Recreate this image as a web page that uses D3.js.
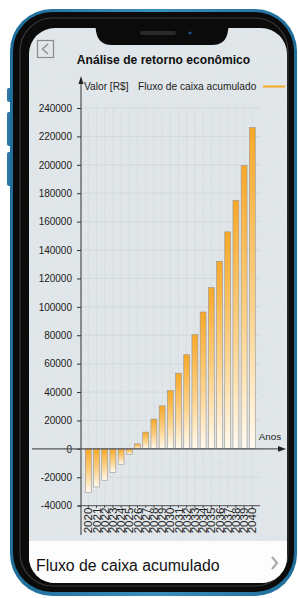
<!DOCTYPE html>
<html>
<head>
<meta charset="utf-8">
<script src="https://cdn.jsdelivr.net/npm/d3@7/dist/d3.min.js"></script>
<style>
  html, body { margin: 0; padding: 0; background: #fff; }
  svg { display: block; font-family: "Liberation Sans", Arial, sans-serif; }
</style>
</head>
<body>
<svg id="chart" width="298" height="598"></svg>
<script>
// data
var years = ['2020','2021','2022','2023','2024','2025','2026','2027','2028','2029','2030',
             '2031','2032','2033','2034','2035','2036','2037','2038','2039','2040'];
var fluxoAcumulado = [-30800, -26800, -22100, -16500, -10800, -3800, 3500, 11800, 21000, 30300,
                      41100, 53300, 66300, 80400, 96400, 113600, 132100, 152800, 175000, 199600, 226200];
var yTicks = [-40000, -20000, 0, 20000, 40000, 60000, 80000, 100000, 120000, 140000,
              160000, 180000, 200000, 220000, 240000];
var titleText = 'Análise de retorno econômico';
var legendText = 'Fluxo de caixa acumulado';

var svg = d3.select('#chart');
var defs = svg.append('defs');

// ---- phone frame ----
var outer = defs.append('linearGradient').attr('id', 'rim').attr('x1', 0).attr('y1', 0).attr('x2', 1).attr('y2', 0);
outer.append('stop').attr('offset', '0%').attr('stop-color', '#1f6d99');
outer.append('stop').attr('offset', '50%').attr('stop-color', '#3b8fbd');
outer.append('stop').attr('offset', '100%').attr('stop-color', '#1f6d99');

var noise = defs.append('filter').attr('id', 'noise').attr('x', 0).attr('y', 0).attr('width', 1).attr('height', 1);
noise.append('feTurbulence').attr('type', 'fractalNoise').attr('baseFrequency', 0.9).attr('numOctaves', 2).attr('result', 't');
noise.append('feColorMatrix').attr('in', 't').attr('type', 'matrix')
  .attr('values', '0 0 0 0 0.55  0 0 0 0 0.6  0 0 0 0 0.63  0 0 0 0.18 0').attr('result', 'n');
noise.append('feComposite').attr('in', 'n').attr('in2', 'SourceGraphic').attr('operator', 'in').attr('result', 'm');
noise.append('feMerge').selectAll('feMergeNode').data(['SourceGraphic', 'm']).enter()
  .append('feMergeNode').attr('in', function(d) { return d; });

// side buttons
svg.selectAll('rect.btn').data([[88, 14], [112, 34], [152, 34]]).enter().append('rect')
  .attr('class', 'btn').attr('x', 7).attr('y', function(d) { return d[0]; })
  .attr('width', 5).attr('height', function(d) { return d[1]; }).attr('rx', 2).attr('fill', '#2a78a6');

svg.append('rect').attr('x', 10).attr('y', 9).attr('width', 287).attr('height', 587).attr('rx', 42)
  .attr('fill', 'url(#rim)');
svg.append('rect').attr('x', 13).attr('y', 12).attr('width', 281).attr('height', 580).attr('rx', 39)
  .attr('fill', '#0b0b0b');
svg.append('rect').attr('x', 20).attr('y', 18).attr('width', 268).attr('height', 568).attr('rx', 33)
  .attr('fill', 'none').attr('stroke', '#3a3a3a').attr('stroke-width', 1.2);

// screen
var clip = defs.append('clipPath').attr('id', 'screen');
clip.append('rect').attr('x', 29).attr('y', 28).attr('width', 258).attr('height', 555).attr('rx', 26);

var screen = svg.append('g').attr('clip-path', 'url(#screen)');
screen.append('rect').attr('x', 29).attr('y', 28).attr('width', 258).attr('height', 555)
  .attr('fill', '#e3e8eb').attr('filter', 'url(#noise)');
screen.append('rect').attr('x', 29).attr('y', 541).attr('width', 258).attr('height', 42).attr('fill', '#fdfdfd');

// notch
svg.append('path')
  .attr('d', 'M84,26 L92,26 Q96,26 96,31 Q98,45 112,45 L212,45 Q226,45 228,31 Q228,26 232,26 L240,26 L240,20 L84,20 Z')
  .attr('fill', '#0b0b0b');
svg.append('rect').attr('x', 140).attr('y', 31).attr('width', 36).attr('height', 4).attr('rx', 2).attr('fill', '#2a2a2a');
svg.append('circle').attr('cx', 190).attr('cy', 33).attr('r', 1.6).attr('fill', '#1e4f8a');

// header
svg.append('rect').attr('x', 37.5).attr('y', 40.5).attr('width', 16).attr('height', 17)
  .attr('fill', 'none').attr('stroke', '#8c8c8c').attr('stroke-width', 1.2);
svg.append('path').attr('d', 'M48,44 L42.5,49 L48,54').attr('fill', 'none')
  .attr('stroke', '#8c8c8c').attr('stroke-width', 1.4);
svg.append('text').attr('x', 163.5).attr('y', 63.5).attr('text-anchor', 'middle')
  .attr('font-size', 12.1).attr('font-weight', 'bold').attr('fill', '#111').text(titleText);

// ---- chart ----
var x = d3.scaleBand().domain(years).range([84.2, 256.4]).paddingInner(0.28).paddingOuter(0.14);
var y = d3.scaleLinear().domain([-40000, 240000]).range([505.7, 108]);
var gridRight = 260;

var grad = defs.append('linearGradient').attr('id', 'barFill').attr('x1', 0).attr('y1', 0).attr('x2', 0).attr('y2', 1);
grad.append('stop').attr('offset', '0%').attr('stop-color', '#f8a828');
grad.append('stop').attr('offset', '55%').attr('stop-color', '#fcd28a');
grad.append('stop').attr('offset', '100%').attr('stop-color', '#fffaf0');

var chart = svg.append('g');

// grid
var minor = d3.range(-40000, 240001, 10000);
chart.append('g').selectAll('line').data(minor).enter().append('line')
  .attr('x1', x.range()[0] - 3).attr('x2', gridRight)
  .attr('y1', function(d) { return y(d); }).attr('y2', function(d) { return y(d); })
  .attr('stroke', function(d) { return d % 20000 === 0 ? '#cdd3d6' : '#dce1e4'; })
  .attr('stroke-width', 0.7);
chart.append('g').selectAll('line').data(years).enter().append('line')
  .attr('x1', function(d) { return x(d) + x.bandwidth() / 2; })
  .attr('x2', function(d) { return x(d) + x.bandwidth() / 2; })
  .attr('y1', y(240000)).attr('y2', y(-40000))
  .attr('stroke', '#d3d8db').attr('stroke-width', 0.6);

// bars
chart.append('g').selectAll('rect').data(years).enter().append('rect')
  .attr('x', function(d) { return x(d); })
  .attr('width', x.bandwidth())
  .attr('y', function(d, i) { return y(Math.max(0, fluxoAcumulado[i])); })
  .attr('height', function(d, i) { return Math.abs(y(fluxoAcumulado[i]) - y(0)); })
  .attr('fill', 'url(#barFill)')
  .attr('stroke', '#9a9590').attr('stroke-width', 0.6);

// y axis (plain hyphen for negatives, as in the picture)
var yAxis = d3.axisLeft(y).tickValues(yTicks).tickSize(4).tickPadding(5)
  .tickFormat(function(d) { return String(d); });
var ya = chart.append('g').attr('transform', 'translate(81,0)').call(yAxis);
ya.select('.domain').remove();
ya.selectAll('line').attr('stroke', '#333');
ya.selectAll('text').attr('font-size', 10).attr('fill', '#222')
  .attr('font-family', '"Liberation Sans", Arial, sans-serif');
chart.append('line').attr('x1', 81).attr('x2', 81).attr('y1', 80).attr('y2', 535)
  .attr('stroke', '#333').attr('stroke-width', 1);
chart.append('path').attr('d', 'M81,76 L78.5,84 L83.5,84 Z').attr('fill', '#222');

// zero line with arrow
chart.append('line').attr('x1', 32).attr('x2', 280).attr('y1', y(0)).attr('y2', y(0))
  .attr('stroke', '#555').attr('stroke-width', 1.1);
chart.append('path').attr('d', 'M286,' + y(0) + ' L278,' + (y(0) - 2.8) + ' L278,' + (y(0) + 2.8) + ' Z')
  .attr('fill', '#222');
chart.append('text').attr('x', 270).attr('y', y(0) - 9).attr('text-anchor', 'middle')
  .attr('font-size', 9.8).attr('fill', '#222').text('Anos');

// bottom year axis
var xAxis = d3.axisBottom(x).tickSize(2).tickPadding(1);
var xa = chart.append('g').attr('transform', 'translate(0,' + y(-40000) + ')').call(xAxis);
xa.select('.domain').remove();
xa.selectAll('line').attr('stroke', '#333');
xa.selectAll('text').attr('font-size', 11.5).attr('fill', '#222')
  .attr('font-family', '"Liberation Sans", Arial, sans-serif')
  .attr('transform', 'rotate(-90)').attr('text-anchor', 'end')
  .attr('dy', '0.36em').attr('x', -2).attr('y', 0);
chart.append('line').attr('x1', 78).attr('x2', gridRight).attr('y1', y(-40000)).attr('y2', y(-40000))
  .attr('stroke', '#444').attr('stroke-width', 0.9);

// legend
chart.append('text').attr('x', 84).attr('y', 89.5).attr('font-size', 10.2).attr('fill', '#222').text('Valor [R$]');
chart.append('text').attr('x', 138).attr('y', 89.5).attr('font-size', 10.2).attr('fill', '#222').text(legendText);
chart.append('line').attr('x1', 263).attr('x2', 285).attr('y1', 86.5).attr('y2', 86.5)
  .attr('stroke', '#f8a828').attr('stroke-width', 2);

// bottom panel
svg.append('text').attr('x', 36).attr('y', 571).attr('font-size', 15.8).attr('fill', '#111').text(legendText);
svg.append('path').attr('d', 'M272,557 L277,563 L272,569').attr('fill', 'none')
  .attr('stroke', '#a9a9a9').attr('stroke-width', 2.2);
</script>
</body>
</html>
